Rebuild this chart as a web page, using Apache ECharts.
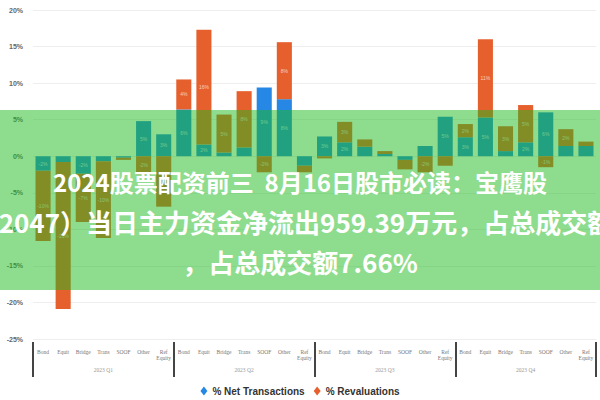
<!DOCTYPE html>
<html>
<head>
<meta charset="utf-8">
<script src="https://cdn.jsdelivr.net/npm/echarts@6/dist/echarts.min.js"></script>
<style>
html,body{margin:0;padding:0;background:#ffffff;}
#chart{width:600px;height:400px;}
</style>
</head>
<body>
<div id="chart"></div>
<script>
// ---- data ----
const categories = [
  'Bond','Equit','Bridge','Trans','SOOF','Other','Ref\nEquity',
  'Bond','Equit','Bridge','Trans','SOOF','Other','Ref\nEquity',
  'Bond','Equit','Bridge','Trans','SOOF','Other','Ref\nEquity',
  'Bond','Equit','Bridge','Trans','SOOF','Other','Ref\nEquity'
];
const groups = ['2023 Q1','2023 Q2','2023 Q3','2023 Q4'];
const netTransactions = [
  -2.0, -0.8, -2.4, -0.7, -0.2, 4.8, 3.0,
  6.4, 1.6, 0.5, 1.2, 9.4, 7.8, -1.3,
  2.7, 1.9, 1.3, 0.3, -0.5, 1.4, 5.4,
  2.6, 5.3, 0.7, 1.9, 6.0, 1.4, 1.4
];
const revaluations = [
  -9.6, -20.1, -6.6, -10.5, -0.3, -2.5, -6.9,
  4.1, 15.7, 5.2, 7.7, -2.2, 7.8, -0.9,
  -0.3, 2.8, 1.0, 0.4, -1.3, -2.2, -1.3,
  1.8, 10.7, 3.4, 5.1, -1.5, 2.3, 0.6
];
const seriesNames = ['% Net Transactions', '% Revaluations'];
const bannerLines = [
  '2024股票配资前三  8月16日股市必读：宝鹰股',
  '份（002047）当日主力资金净流出959.39万元，占总成交额',
  '，占总成交额7.66%'
];

const chart = echarts.init(document.getElementById('chart'), null, {renderer: 'svg'});

function segLabel(p) {
  const v = p.value;
  return Math.abs(v) >= 1.5 ? Math.round(v) + '%' : '';
}

const option = {
  animation: false,
  backgroundColor: '#ffffff',
  grid: {left: 33, right: 4, top: 10, bottom: 61},
  legend: {
    data: seriesNames,
    bottom: -1,
    left: 'center',
    icon: 'diamond',
    itemWidth: 7,
    itemHeight: 9,
    itemGap: 9,
    textStyle: {fontSize: 10, fontWeight: 'bold', color: '#333', fontFamily: 'Liberation Sans'}
  },
  xAxis: [
    {
      type: 'category',
      data: categories,
      position: 'bottom',
      axisLine: {show: false, onZero: false},
      axisTick: {show: false},
      axisLabel: {fontSize: 5.5, color: '#777', margin: 10, interval: 0, lineHeight: 6, fontFamily: 'Liberation Serif'}
    },
    {
      type: 'category',
      data: groups,
      position: 'bottom',
      offset: 3,
      axisLine: {show: false, onZero: false},
      axisTick: {show: true, length: 35, lineStyle: {color: '#444', width: 2}},
      axisLabel: {fontSize: 5.5, color: '#999', margin: 25, fontFamily: 'Liberation Serif'}
    }
  ],
  yAxis: {
    type: 'value',
    min: -25,
    max: 20,
    interval: 5,
    axisLine: {show: false},
    axisTick: {show: false},
    axisLabel: {formatter: '{value}%', fontSize: 7, color: '#666', margin: 10, fontWeight: 'bold'},
    splitLine: {lineStyle: {color: '#eeeeee', width: 1}}
  },
  series: [
    {
      name: seriesNames[0],
      type: 'bar',
      stack: 'total',
      barWidth: '75%',
      data: netTransactions,
      itemStyle: {color: '#2688e4'},
      label: {show: true, position: 'inside', fontSize: 5, color: 'rgba(255,255,255,0.7)', formatter: segLabel}
    },
    {
      name: seriesNames[1],
      type: 'bar',
      stack: 'total',
      barWidth: '75%',
      data: revaluations,
      itemStyle: {color: '#e6602e'},
      label: {show: true, position: 'inside', fontSize: 5, color: 'rgba(255,255,255,0.7)', formatter: segLabel}
    }
  ],
  graphic: [
    {
      type: 'rect',
      z: 100,
      shape: {x: 0, y: 110, width: 600, height: 180},
      style: {fill: 'rgba(30,185,30,0.5)'}
    },
    {
      type: 'text', z: 101, x: 300, y: 181,
      style: {text: bannerLines[0], fill: '#ffffff', font: 'bold 24px "Noto Sans CJK SC"', align: 'center', verticalAlign: 'middle'}
    },
    {
      type: 'text', z: 101, x: -84, y: 221,
      style: {text: bannerLines[1], fill: '#ffffff', font: 'bold 26px "Noto Sans CJK SC"', align: 'left', verticalAlign: 'middle'}
    },
    {
      type: 'text', z: 101, x: 300, y: 261,
      style: {text: bannerLines[2], fill: '#ffffff', font: 'bold 26px "Noto Sans CJK SC"', align: 'center', verticalAlign: 'middle'}
    }
  ]
};
chart.setOption(option);
</script>
</body>
</html>
